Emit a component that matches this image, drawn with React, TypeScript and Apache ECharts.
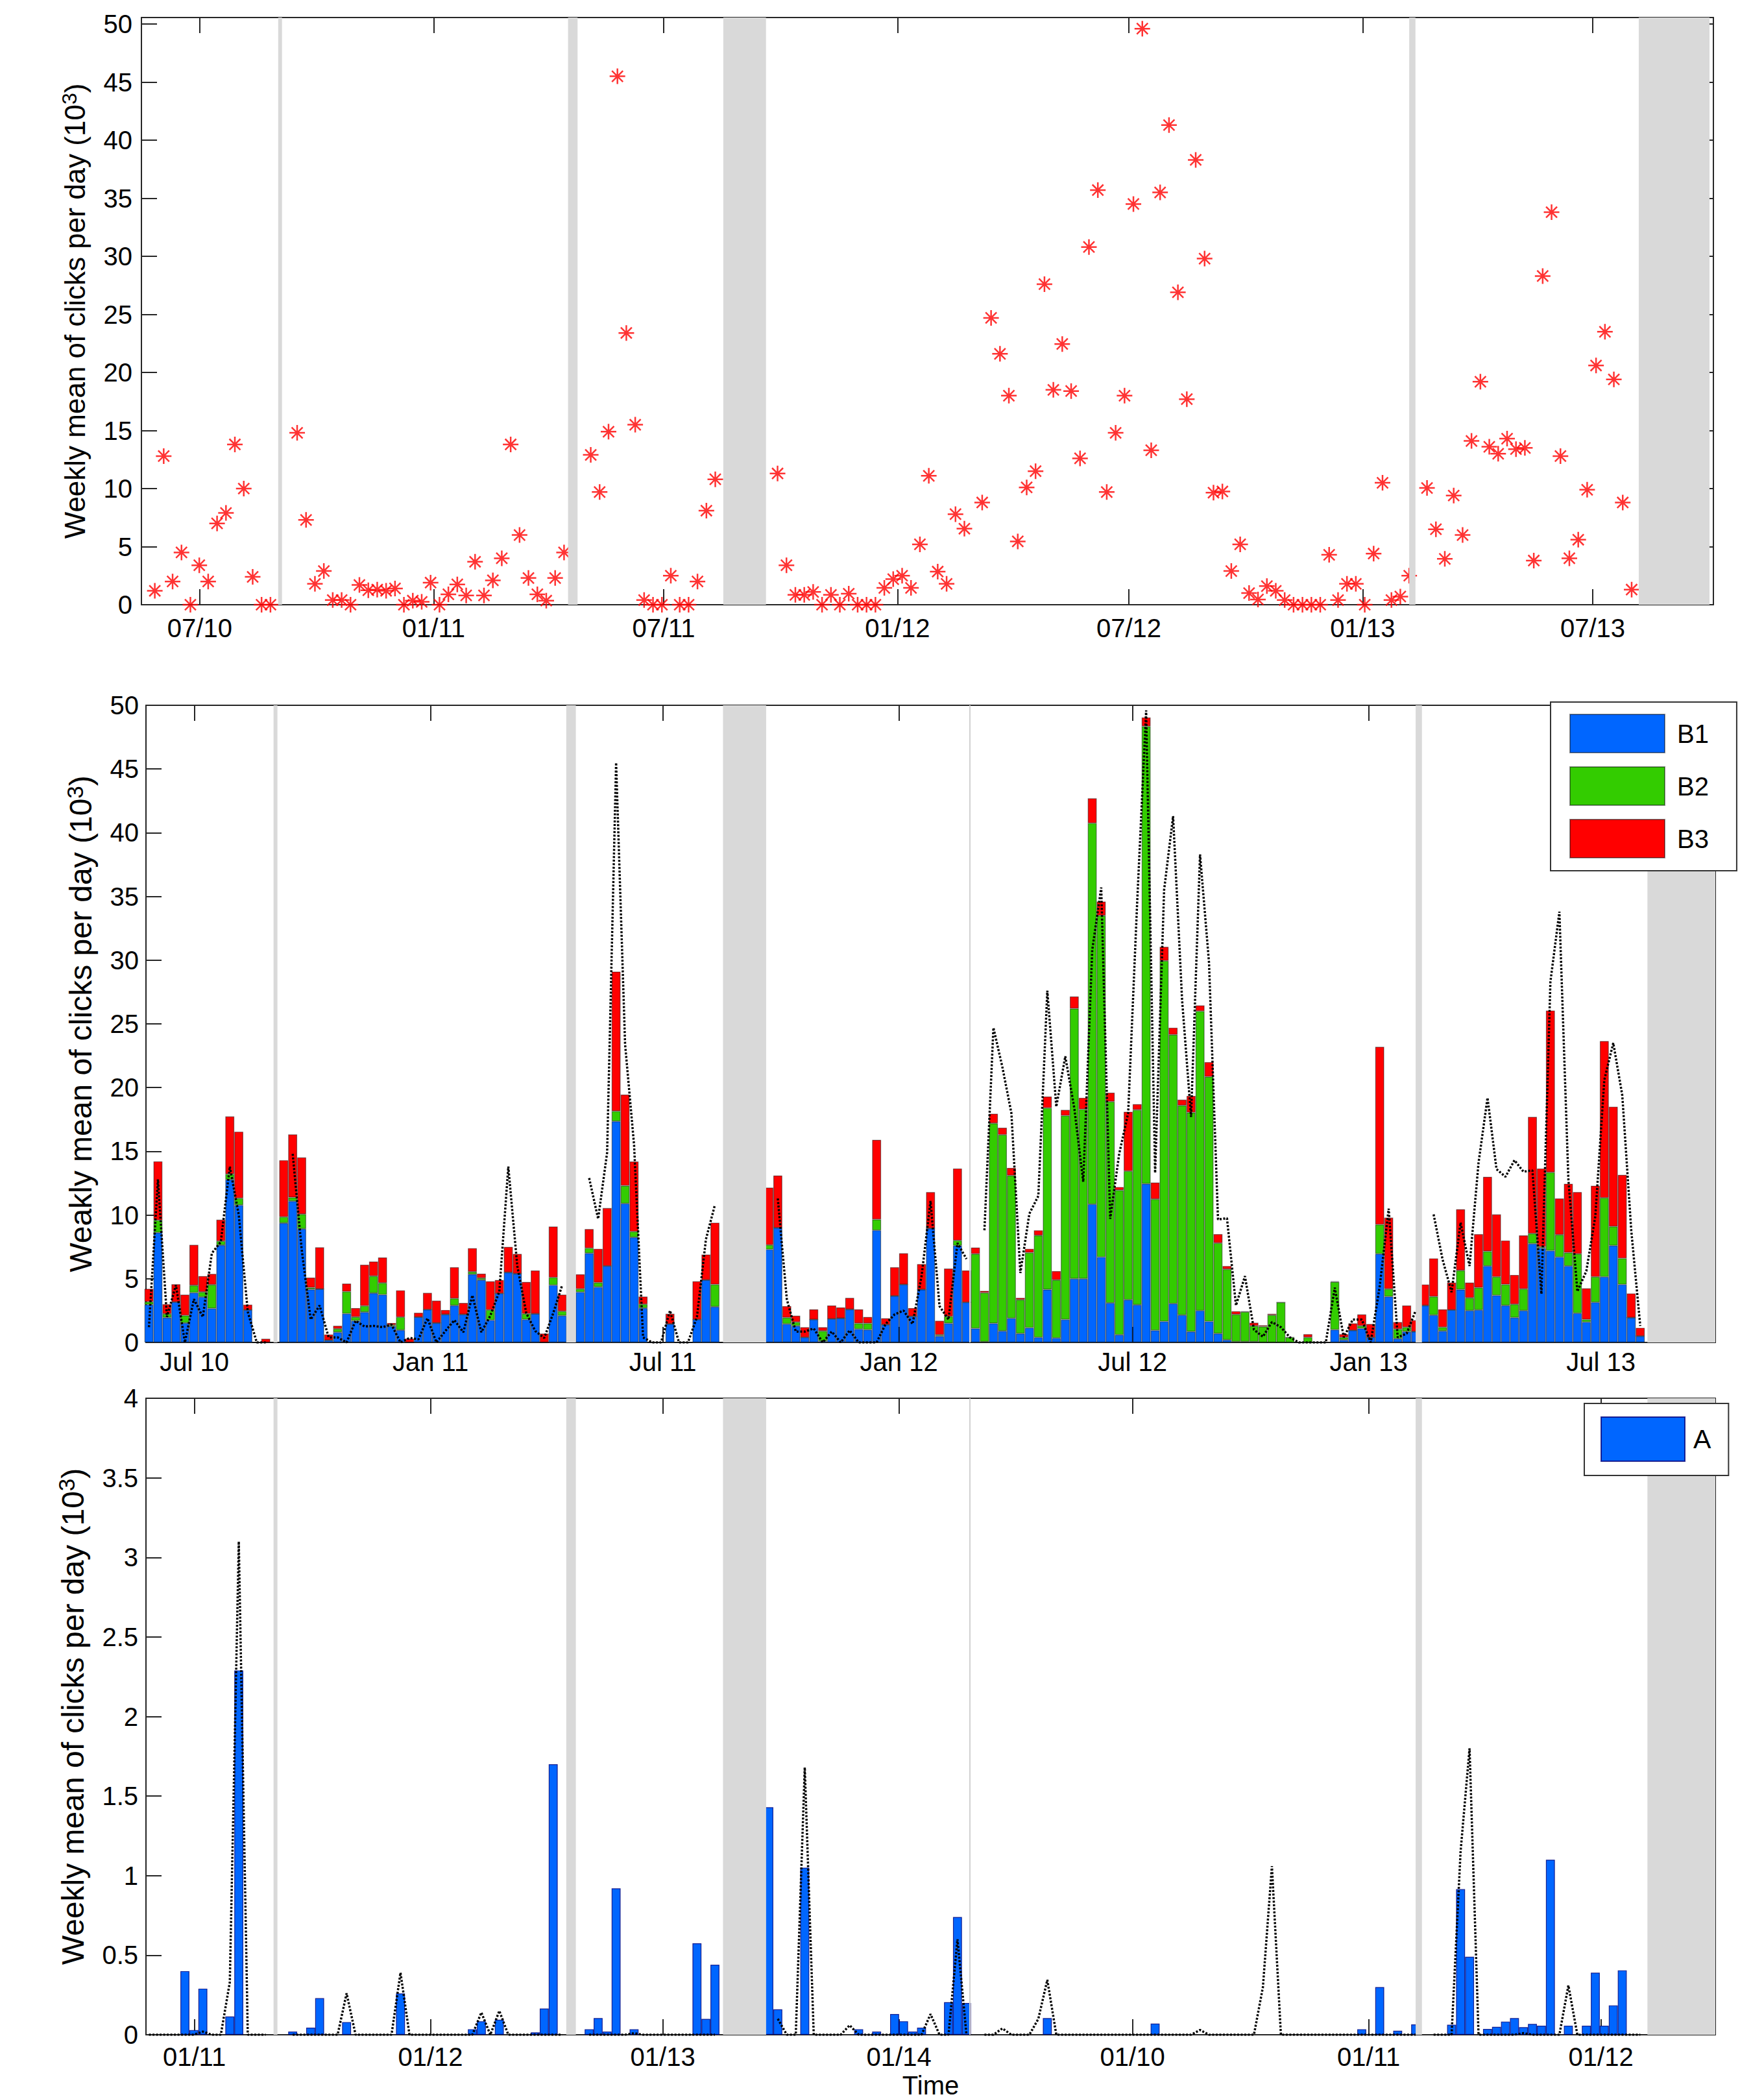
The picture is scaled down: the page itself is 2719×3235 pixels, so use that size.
import React, { useEffect, useRef } from 'react';
import * as echarts from 'echarts';

// ---------------- data (one value per week, week 0 = end of May 2010) ----------------
const TOTAL: (number | null)[] = [
  1.2, 12.8, 2.0, 4.5, 0, 3.4, 2.0, 7.0, 7.9, 13.8,
  10.0, 2.4, 0, 0, null, null, 14.8, 7.3, 1.8, 2.9,
  0.4, 0.4, 0, 1.7, 1.25, 1.3, 1.2, 1.4, 0, 0.35,
  0.25, 1.9, 0, 0.9, 1.75, 0.8, 3.7, 0.8, 2.1, 4.0,
  13.8, 6.0, 2.3, 0.9, 0.35, 2.3, 4.5, null, null, 12.9,
  9.7, 14.9, 45.5, 23.4, 15.5, 0.4, 0, 0, 2.5, 0,
  0, 2.0, 8.1, 10.8, null, null, null, null, null, null,
  11.3, 3.4, 0.85, 0.85, 1.1, 0, 0.85, 0, 0.95, 0,
  0, 0, 1.45, 2.2, 2.5, 1.45, 5.2, 11.1, 2.85, 1.8,
  7.8, 6.55, null, 8.8, 24.7, 21.6, 18.0, 5.45, 10.1, 11.5,
  27.6, 18.5, 22.45, 18.4, 12.6, 30.8, 35.7, 9.7, 14.8, 18.0,
  34.5, 49.6, 13.3, 35.5, 41.3, 26.9, 17.7, 38.3, 29.8, 9.65,
  9.75, 2.9, 5.2, 1.0, 0.45, 1.6, 1.2, 0.4, 0, 0,
  0, 0, 4.3, 0.4, 1.8, 1.8, 0, 4.4, 10.5, 0.4,
  0.7, 2.5, null, 10.05, 6.5, 3.95, 9.4, 6.0, 14.1, 19.2,
  13.6, 13.0, 14.3, 13.4, 13.5, 3.8, 28.3, 33.8, 12.8, 4.0,
  5.6, 9.9, 20.6, 23.5, 19.4, 8.8, 1.3,
];

const B1: number[] = [
  2.97, 8.62, 1.95, 3.17, 1.53, 3.9, 3.57, 2.67, 7.64, 12.78,
  10.78, 2.55, 0, 0, 0, 9.37, 11.09, 8.91, 4.16, 4.19,
  0.17, 0.8, 2.26, 1.7, 2.38, 3.87, 3.75, 1.27, 0.97, 0,
  1.99, 2.58, 1.53, 2.2, 2.9, 2.2, 5.35, 4.9, 1.75, 3.85,
  5.5, 5.4, 1.8, 2.25, 0, 4.5, 2.1, 0, 3.95, 7.0,
  4.35, 6.0, 17.35, 10.9, 8.25, 2.7, 0, 0, 1.45, 0,
  0, 1.8, 4.9, 2.8, 0, 0, 0, 0, 0, 7.3,
  9.0, 1.45, 1.3, 0.4, 1.8, 0.1, 1.85, 1.9, 2.6, 1.05,
  1.0, 8.8, 1.4, 3.65, 4.55, 2.05, 4.15, 8.95, 0.5, 1.5,
  7.6, 3.15, 1.1, 0.05, 1.5, 0.9, 1.9, 0.7, 1.15, 0.4,
  4.15, 0.35, 1.8, 5.0, 5.0, 10.85, 6.7, 3.1, 0.6, 3.35,
  2.95, 12.45, 0.95, 1.65, 3.05, 2.15, 0.85, 2.5, 1.65, 0.7,
  0.2, 0.05, 0.05, 0.05, 0, 0, 0, 0, 0, 0,
  0, 0, 1.0, 0.2, 0.95, 1.1, 0.4, 6.95, 3.6, 0.3,
  0.85, 0.85, 2.9, 2.15, 0.9, 2.55, 4.15, 2.5, 2.55, 6.0,
  3.7, 2.9, 1.95, 2.5, 7.75, 7.4, 7.2, 6.7, 6.0, 2.3,
  1.6, 3.15, 5.15, 7.6, 4.55, 1.95, 0.5,
];

const B2: number[] = [
  0.22, 0.97, 0.29, 0, 0.59, 0.58, 0.39, 1.86, 0.31, 0.43,
  0.54, 0, 0, 0, 0, 0.48, 0.29, 1.16, 0.14, 0,
  0, 0.27, 1.73, 0.3, 0.49, 1.34, 0.92, 0.1, 1.02, 0,
  0, 0, 0, 0, 0.55, 0, 0.2, 0.15, 0.8, 0,
  0, 0, 0.45, 0, 0, 0.6, 0.35, 0, 0.25, 0.4,
  0.35, 0, 0.8, 1.4, 0.45, 0.3, 0, 0, 0, 0,
  0, 0, 0, 1.75, 0, 0, 0, 0, 0, 0.35,
  0, 0.5, 0.3, 0, 0, 0.8, 0, 0, 0, 0.45,
  0.5, 0.85, 0, 0, 0, 0, 0, 0, 0.1, 0.55,
  0.4, 0, 5.85, 3.85, 15.7, 15.4, 11.2, 2.65, 5.9, 8.0,
  14.25, 4.55, 16.0, 21.2, 13.3, 29.9, 26.8, 15.8, 11.35, 10.1,
  15.3, 35.9, 10.3, 28.3, 21.1, 16.45, 17.2, 23.5, 19.2, 7.1,
  5.55, 2.15, 2.35, 1.25, 1.25, 2.15, 3.15, 0.4, 0, 0.4,
  0, 0, 3.75, 0.2, 0, 0.2, 0, 2.3, 0.6, 0.75,
  0.35, 0, 0, 1.45, 0.3, 0, 1.5, 1.0, 1.75, 1.15,
  1.45, 1.65, 1.05, 1.7, 0.8, 0.1, 6.15, 1.75, 1.05, 4.65,
  0.2, 2.0, 6.2, 1.5, 2.05, 0, 0,
];

const B3: number[] = [
  1.02, 4.62, 0.76, 1.4, 1.63, 3.18, 1.25, 0.85, 1.68, 4.53,
  5.22, 0.42, 0, 0.29, 0, 4.45, 4.95, 4.45, 0.79, 3.28,
  0.46, 0.24, 0.63, 0.7, 3.23, 1.14, 2.0, 0.16, 2.1, 0.3,
  0.34, 1.31, 1.75, 0.35, 2.45, 0.9, 1.85, 0.35, 2.25, 1.05,
  2.0, 1.55, 2.5, 3.4, 0.7, 4.0, 1.3, 0, 1.15, 1.5,
  2.65, 4.55, 10.95, 7.15, 5.5, 0.6, 0, 0, 0.8, 0,
  0, 3.0, 2.0, 4.85, 0, 0, 0, 0, 0, 4.5,
  4.1, 0.9, 0.5, 0.8, 0.8, 0.3, 1.05, 0.85, 0.9, 1.1,
  0.5, 6.25, 0.5, 2.25, 2.45, 0.65, 2.0, 2.85, 1.1, 3.75,
  5.65, 2.5, 0.5, 0.15, 0.75, 0.55, 0.6, 0.15, 0.3, 0.4,
  0.9, 0.7, 0.45, 0.95, 0.9, 1.95, 1.1, 0.7, 0.25, 4.65,
  0.45, 0.7, 1.3, 1.1, 0.55, 0.45, 1.3, 0.45, 1.15, 0.7,
  0.25, 0.25, 0.05, 0.25, 0.1, 0.1, 0, 0, 0, 0.25,
  0, 0, 0.05, 0.25, 0.55, 0.9, 1.05, 13.95, 5.6, 0.55,
  1.7, 0.9, 1.65, 3.0, 1.4, 2.15, 4.8, 1.2, 4.2, 5.85,
  4.9, 3.45, 2.3, 4.2, 9.15, 6.15, 12.7, 2.85, 5.4, 4.85,
  2.45, 7.15, 12.3, 9.4, 6.55, 1.9, 0.65,
];

const A_WEEKS: number[] = [
  4, 5, 6, 9, 10, 16, 18, 19, 22, 28, 36, 37, 39, 43, 44, 45, 49, 50, 51, 52,
  54, 61, 62, 63, 69, 70, 73, 79, 81, 83, 84, 85, 86, 89, 90, 91, 100, 112, 135, 137,
  139, 141, 145, 146, 147, 149, 150, 151, 152, 153, 154, 155, 156, 158, 160, 161, 162, 163, 164,
];
const A_VALUES: number[] = [
  0.4, 0.03, 0.29, 0.115, 2.29, 0.02, 0.045, 0.23, 0.08, 0.26, 0.035, 0.085, 0.095, 0.015, 0.165, 1.7, 0.035, 0.105, 0.02, 0.92,
  0.035, 0.575, 0.1, 0.44, 1.43, 0.16, 1.05, 0.035, 0.02, 0.13, 0.085, 0.02, 0.045, 0.205, 0.74, 0.2, 0.105, 0.07, 0.035, 0.3,
  0.025, 0.065, 0.063, 0.915, 0.49, 0.037, 0.05, 0.083, 0.105, 0.048, 0.068, 0.057, 1.1, 0.057, 0.057, 0.39, 0.057, 0.185, 0.405,
];

const A_TREND: (number | null)[] = [
  0, 0, 0, 0, 0, 0, 0.02, 0, 0, 0.33,
  3.1, 0, 0, 0, null, null, 0, 0, 0, 0,
  0, 0, 0.26, 0, 0, 0, 0, 0, 0.39, 0,
  0, 0, 0, 0, 0, 0, 0, 0.14, 0, 0.15,
  0, 0, 0, 0, 0, 0, 0, null, null, 0,
  0, 0, 0, 0, 0.01, 0, 0, 0, 0, 0,
  0, 0, 0, 0, null, null, null, null, null, null,
  0.1, 0, 0, 1.68, 0, 0, 0, 0, 0.06, 0,
  0, 0, 0, 0, 0, 0, 0, 0.13, 0, 0,
  0.6, 0, null, 0, 0, 0.04, 0, 0, 0, 0.1,
  0.345, 0, 0, 0, 0, 0, 0, 0, 0, 0,
  0, 0, 0, 0, 0, 0, 0, 0.03, 0, 0,
  0, 0, 0, 0, 0.3, 1.06, 0, 0, 0, 0,
  0, 0, 0, 0, 0, 0, 0, 0, 0, 0,
  0, 0, null, 0, 0, 0, 1.15, 1.8, 0, 0,
  0, 0, 0, 0.01, 0, 0, 0, 0, 0.31, 0,
  0, 0, 0, 0, 0, 0, 0,
];

// tick dates (year, month index, day)
const TICK_DATES: [number, number, number][] = [
  [2010, 6, 1], [2011, 0, 1], [2011, 6, 1], [2012, 0, 1], [2012, 6, 1], [2013, 0, 1], [2013, 6, 1],
];
const TOP_TICK_LABELS = ['07/10', '01/11', '07/11', '01/12', '07/12', '01/13', '07/13'];
const MID_TICK_LABELS = ['Jul 10', 'Jan 11', 'Jul 11', 'Jan 12', 'Jul 12', 'Jan 13', 'Jul 13'];
const BOTTOM_TICK_LABELS = ['01/11', '01/12', '01/13', '01/14', '01/10', '01/11', '01/12'];
const TOP_Y_TICKS = [0, 5, 10, 15, 20, 25, 30, 35, 40, 45, 50];

// gaps (in weeks) shaded grey
const GAP_BANDS: [number, number][] = [[13.87, 14.3], [46.45, 47.52], [63.9, 68.7], [141.0, 141.7]];
const END_BAND_START = 166.8;
const SEASON_MARK = 91.4;

// ---------------- helpers ----------------
const WEEK0_MS = Date.UTC(2010, 4, 26, 15);
const toWeek = (y: number, m: number, d: number) => (Date.UTC(y, m, d) - WEEK0_MS) / (7 * 86400000);
const TICK_WEEKS = TICK_DATES.map(([y, m, d]) => toWeek(y, m, d));

const FONT = "'Liberation Sans', Arial, Helvetica, sans-serif";
const AXIS_COLOR = '#262626';
const TOP_X: [number, number] = [-1.503, 175.19];
const MID_X: [number, number] = [-0.332, 174.36];

const labelFor = (labels: string[]) => (v: number) => {
  let best = -1;
  let bd = 1e9;
  TICK_WEEKS.forEach((w, i) => {
    const d = Math.abs(w - v);
    if (d < bd) { bd = d; best = i; }
  });
  return bd < 0.05 ? labels[best] : '';
};

const ASTERISK = 'path://M0,-10L0,10M-10,0L10,0M-7.07,-7.07L7.07,7.07M-7.07,7.07L7.07,-7.07';

function xAxesFor(gi: number, range: [number, number], labels: string[], margin: number, extra: any = {}) {
  const tick = { show: true, inside: true, length: 24, customValues: TICK_WEEKS, lineStyle: { color: AXIS_COLOR, width: 2 } };
  const line = { show: true, onZero: false, lineStyle: { color: AXIS_COLOR, width: 2 } };
  return [
    {
      type: 'value', gridIndex: gi, position: 'bottom', min: range[0], max: range[1],
      splitLine: { show: false }, axisLine: line, axisTick: tick,
      axisLabel: { show: true, customValues: TICK_WEEKS, formatter: labelFor(labels), fontSize: 40, fontFamily: FONT, color: '#000', margin },
      ...extra,
    },
    {
      type: 'value', gridIndex: gi, position: 'top', min: range[0], max: range[1],
      splitLine: { show: false }, axisLine: line, axisTick: tick, axisLabel: { show: false },
    },
  ];
}

function yAxesFor(gi: number, max: number, interval: number, custom: number[] | null, name: string, nameSize: number, nameGap: number, margin: number) {
  const tick: any = { show: true, inside: true, length: 24, lineStyle: { color: AXIS_COLOR, width: 2 } };
  const lab: any = { show: true, fontSize: 40, fontFamily: FONT, color: '#000', margin };
  if (custom) { tick.customValues = custom; lab.customValues = custom; }
  const line = { show: true, onZero: false, lineStyle: { color: AXIS_COLOR, width: 2 } };
  return [
    {
      type: 'value', gridIndex: gi, position: 'left', min: 0, max, interval,
      splitLine: { show: false }, axisLine: line, axisTick: tick, axisLabel: lab,
      name, nameLocation: 'middle', nameRotate: 90, nameGap,
      nameTextStyle: {
        fontSize: nameSize, fontFamily: FONT, color: '#000', lineHeight: nameSize + 6,
        rich: { s: { fontSize: Math.round(nameSize * 0.72), fontFamily: FONT, color: '#000', verticalAlign: 'top', lineHeight: 30, padding: [0, 0, 26, 0] } },
      },
    },
    {
      type: 'value', gridIndex: gi, position: 'right', min: 0, max, interval,
      splitLine: { show: false }, axisLine: line, axisTick: { ...tick }, axisLabel: { show: false },
    },
  ];
}

function bandSeries(gi: number, range: [number, number], endBandEnd: number, withMark: boolean) {
  const s: any = {
    type: 'line', name: 'bands' + gi, xAxisIndex: gi * 2, yAxisIndex: gi * 2,
    data: [[range[0], 0]], showSymbol: false, symbol: 'none', silent: true,
    lineStyle: { width: 0, opacity: 0 },
    markArea: {
      silent: true, z: 3, label: { show: false },
      itemStyle: { color: '#d9d9d9' },
      data: [...GAP_BANDS, [END_BAND_START, endBandEnd] as [number, number]].map(([a, b]) => [{ xAxis: a }, { xAxis: b }]),
    },
  };
  if (withMark) {
    s.markLine = {
      silent: true, symbol: ['none', 'none'], label: { show: false },
      lineStyle: { color: '#d2d2d2', width: 2, type: 'solid' },
      data: [{ xAxis: SEASON_MARK }],
    };
  }
  return s;
}

const BAR_BORDER = 'rgba(0,0,0,0.45)';

// stacked bars: value first, week second, so that the stack is applied to the value (y) dimension
function stackedBar(name: string, values: number[], color: string) {
  return {
    type: 'bar', name, stack: 'B', xAxisIndex: 2, yAxisIndex: 2, barWidth: 13.85, clip: true,
    encode: { x: 1, y: 0 },
    data: values.map((v, k) => [v, k]),
    itemStyle: { color, borderColor: BAR_BORDER, borderWidth: 1.2 },
  };
}

function buildOption() {
  const pairs = (arr: (number | null)[]) => arr.map((v, k) => [k, v]);
  const dotted = { color: '#000', width: 3.5, type: [3, 2.5] };
  return {
    animation: false,
    backgroundColor: '#ffffff',
    textStyle: { fontFamily: FONT },
    grid: [
      { left: 218, top: 27, width: 2423, height: 905, containLabel: false, outerBoundsMode: 'none' },
      { left: 225, top: 1087, width: 2419, height: 982, containLabel: false, outerBoundsMode: 'none' },
      { left: 225, top: 2155, width: 2419, height: 981, containLabel: false, outerBoundsMode: 'none' },
    ],
    xAxis: [
      ...xAxesFor(0, TOP_X, TOP_TICK_LABELS, 16),
      ...xAxesFor(1, MID_X, MID_TICK_LABELS, 10),
      ...xAxesFor(2, MID_X, BOTTOM_TICK_LABELS, 14, {
        name: 'Time', nameLocation: 'middle', nameGap: 58,
        nameTextStyle: { fontSize: 40, fontFamily: FONT, color: '#000' },
      }),
    ],
    yAxis: [
      ...yAxesFor(0, 50.56, 5, TOP_Y_TICKS, 'Weekly mean of clicks per day (10{s|3})', 44, 72, 14),
      ...yAxesFor(1, 50, 5, null, 'Weakly mean of clicks per day (10{s|3})', 48, 68, 11),
      ...yAxesFor(2, 4, 0.5, null, 'Weekly mean of clicks per day (10{s|3})', 48, 78, 12),
    ],
    legend: [
      {
        data: ['B1', 'B2', 'B3'], orient: 'vertical', left: 2390, top: 1082,
        itemWidth: 146, itemHeight: 59, itemGap: 20, padding: [18, 43, 19, 29],
        backgroundColor: '#ffffff', borderColor: '#333333', borderWidth: 2, borderRadius: 0,
        icon: 'rect', selectedMode: false, z: 10,
        textStyle: { fontSize: 40, fontFamily: FONT, color: '#000', padding: [0, 0, 0, 14] },
      },
      {
        data: ['A'], orient: 'vertical', left: 2442, top: 2163,
        itemWidth: 129, itemHeight: 68, itemGap: 20, padding: [20, 27, 21, 25],
        backgroundColor: '#ffffff', borderColor: '#333333', borderWidth: 2, borderRadius: 0,
        icon: 'rect', selectedMode: false, z: 10,
        textStyle: { fontSize: 41, fontFamily: FONT, color: '#000', padding: [0, 0, 0, 8] },
      },
    ],
    series: [
      bandSeries(0, TOP_X, 174.75, false),
      bandSeries(1, MID_X, MID_X[1], true),
      bandSeries(2, MID_X, MID_X[1], true),
      {
        type: 'scatter', name: 'Total', xAxisIndex: 0, yAxisIndex: 0,
        data: pairs(TOTAL).filter((p) => p[1] !== null),
        symbol: ASTERISK, symbolSize: 24, clip: true,
        itemStyle: { color: 'rgba(0,0,0,0)', borderColor: '#ff0000', borderWidth: 2.5 },
      },
      stackedBar('B1', B1, '#0066ff'),
      stackedBar('B2', B2, '#33cc00'),
      stackedBar('B3', B3, '#ff0000'),
      {
        type: 'line', name: 'Total (dotted)', xAxisIndex: 2, yAxisIndex: 2, z: 4,
        data: pairs(TOTAL), showSymbol: false, symbol: 'none', connectNulls: false,
        lineStyle: dotted,
      },
      {
        type: 'bar', name: 'A', xAxisIndex: 4, yAxisIndex: 4, barWidth: 13.85, clip: true,
        data: A_WEEKS.map((w, i) => [w, A_VALUES[i]]),
        itemStyle: { color: '#0066ff', borderColor: 'rgba(0,0,120,0.8)', borderWidth: 1.2 },
      },
      {
        type: 'line', name: 'A trend', xAxisIndex: 4, yAxisIndex: 4, z: 4,
        data: pairs(A_TREND), showSymbol: false, symbol: 'none', connectNulls: false,
        lineStyle: dotted,
      },
    ],
  };
}

export default function App() {
  const ref = useRef<HTMLDivElement>(null);
  useEffect(() => {
    if (!ref.current) return;
    const chart = echarts.init(ref.current, undefined, { renderer: 'svg' });
    chart.setOption(buildOption() as any);
    return () => chart.dispose();
  }, []);
  return (
    <div
      ref={ref}
      style={{ position: 'fixed', left: 0, top: 0, width: 2719, height: 3235, background: '#fff' }}
    />
  );
}
